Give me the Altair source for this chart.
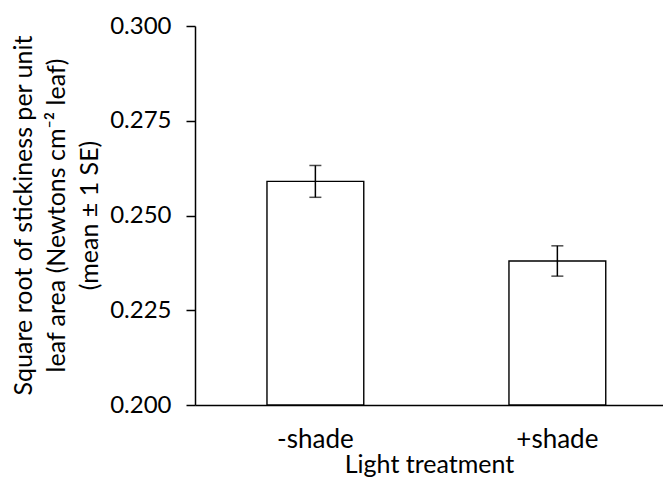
import altair as alt
import pandas as pd

treatments = ["-shade", "+shade"]
means = [0.259, 0.238]
ses = [0.0042, 0.0040]
y_ticks = [0.200, 0.225, 0.250, 0.275, 0.300]

df = pd.DataFrame({"treatment": treatments, "mean": means, "se": ses})

FONT = "Lato"

x_enc = alt.X("treatment:N", sort=treatments,
              scale=alt.Scale(paddingInner=0.6, paddingOuter=0.267, align=0.557),
              axis=alt.Axis(title="Light treatment", labelAngle=0, ticks=False,
                            domainColor="black", domainWidth=1.5,
                            labelFont=FONT, labelFontSize=26, labelColor="black",
                            labelPadding=21, titleFont=FONT, titleFontSize=25,
                            titleFontWeight="normal", titleColor="black", titlePadding=0))

y_scale = alt.Scale(domain=[0.2, 0.3], nice=False, zero=False)

base = alt.Chart(df).transform_calculate(
    lo="datum.mean - datum.se", hi="datum.mean + datum.se", y0="0.2")

bars = base.mark_bar(fill="white", stroke="black", strokeWidth=1.4).encode(
    x=x_enc,
    y=alt.Y("mean:Q", scale=y_scale,
            axis=alt.Axis(values=y_ticks, format=".3f", grid=False,
                          tickSize=9, tickColor="black", tickWidth=1.5,
                          domainColor="black", domainWidth=1.5,
                          labelFont=FONT, labelFontSize=24, labelColor="black",
                          labelPadding=15,
                          title=["Square root of stickiness per unit",
                                 "leaf area (Newtons cm\u207b\u00b2 leaf)",
                                 "(mean \u00b1 1 SE)"],
                          titleFont=FONT, titleFontSize=25, titleFontWeight="normal",
                          titleColor="black", titleLineHeight=33,
                          titleAngle=-90, titleAlign="center", titleBaseline="middle",
                          titleX=-172, titleY=189)),
    y2="y0:Q",
)

rule = base.mark_rule(color="black", strokeWidth=1.5).encode(
    x=alt.X("treatment:N", sort=treatments), y="lo:Q", y2="hi:Q")
cap_lo = base.mark_tick(color="black", size=12, thickness=1.5).encode(
    x=alt.X("treatment:N", sort=treatments), y="lo:Q")
cap_hi = base.mark_tick(color="black", size=12, thickness=1.5).encode(
    x=alt.X("treatment:N", sort=treatments), y="hi:Q")

chart = alt.layer(bars, rule, cap_lo, cap_hi).properties(
    width=468, height=379,
    autosize=alt.AutoSizeParams(type="none"),
    padding={"left": 187, "top": 18, "right": 0, "bottom": 72},
).configure_view(stroke=None)

chart.save("out.html", embed_options={"renderer": "svg", "actions": False})
